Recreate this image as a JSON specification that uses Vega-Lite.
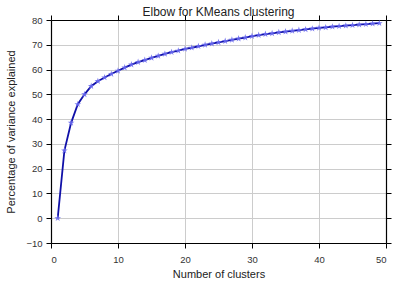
{
  "$schema": "https://vega.github.io/schema/vega-lite/v6.json",
  "autosize": "none",
  "padding": {"left": 51, "top": 20, "right": 12, "bottom": 44},
  "width": 335,
  "height": 223,
  "background": "white",
  "title": {"text": "Elbow for KMeans clustering", "font": "Liberation Sans", "fontSize": 12, "fontWeight": "normal", "color": "#222222", "offset": -4},
  "config": {
    "view": {"stroke": null},
    "axis": {"labelFont": "Liberation Sans", "titleFont": "Liberation Sans", "labelFontSize": 9.5, "titleFontSize": 11, "titleFontWeight": "normal", "labelColor": "#333333", "titleColor": "#222222", "domainColor": "#000000", "tickColor": "#000000", "tickSize": 5, "gridColor": "#cccccc", "gridWidth": 1, "domainWidth": 1.2}
  },
  "data": {"values": [
    {"k": 1, "v": 0}, {"k": 2, "v": 27.3}, {"k": 3, "v": 38.5}, {"k": 4, "v": 46}, {"k": 5, "v": 50},
    {"k": 6, "v": 53.3}, {"k": 7, "v": 55.3}, {"k": 8, "v": 56.8}, {"k": 9, "v": 58.2}, {"k": 10, "v": 59.5},
    {"k": 11, "v": 60.8}, {"k": 12, "v": 62}, {"k": 13, "v": 63}, {"k": 14, "v": 63.8}, {"k": 15, "v": 64.7},
    {"k": 16, "v": 65.5}, {"k": 17, "v": 66.3}, {"k": 18, "v": 67}, {"k": 19, "v": 67.6}, {"k": 20, "v": 68.3},
    {"k": 21, "v": 68.8}, {"k": 22, "v": 69.4}, {"k": 23, "v": 70}, {"k": 24, "v": 70.5}, {"k": 25, "v": 71},
    {"k": 26, "v": 71.5}, {"k": 27, "v": 72}, {"k": 28, "v": 72.5}, {"k": 29, "v": 72.9}, {"k": 30, "v": 73.5},
    {"k": 31, "v": 73.9}, {"k": 32, "v": 74.3}, {"k": 33, "v": 74.6}, {"k": 34, "v": 75}, {"k": 35, "v": 75.3},
    {"k": 36, "v": 75.6}, {"k": 37, "v": 75.9}, {"k": 38, "v": 76.2}, {"k": 39, "v": 76.5}, {"k": 40, "v": 76.8},
    {"k": 41, "v": 77}, {"k": 42, "v": 77.3}, {"k": 43, "v": 77.5}, {"k": 44, "v": 77.7}, {"k": 45, "v": 77.9},
    {"k": 46, "v": 78.1}, {"k": 47, "v": 78.3}, {"k": 48, "v": 78.5}, {"k": 49, "v": 78.7}
  ]},
  "layer": [
    {
      "mark": {"type": "line", "color": "#1010a8", "strokeWidth": 1.8},
      "encoding": {
        "x": {"field": "k", "type": "quantitative", "scale": {"domain": [0, 50], "nice": false}, "axis": {"title": "Number of clusters", "values": [0, 10, 20, 30, 40, 50], "labelPadding": 6, "titlePadding": 5}},
        "y": {"field": "v", "type": "quantitative", "scale": {"domain": [-10, 80], "nice": false}, "axis": {"title": "Percentage of variance explained", "values": [-10, 0, 10, 20, 30, 40, 50, 60, 70, 80], "labelPadding": 4, "titlePadding": 9}}
      }
    },
    {
      "mark": {"type": "point", "shape": "M0,-1L0.2245,-0.309L0.951,-0.309L0.363,0.118L0.588,0.809L0,0.382L-0.588,0.809L-0.363,0.118L-0.951,-0.309L-0.2245,-0.309Z", "filled": true, "color": "#6a6af0", "size": 50, "opacity": 0.9},
      "encoding": {
        "x": {"field": "k", "type": "quantitative", "axis": {"orient": "top", "labels": false, "title": null, "grid": false, "values": [0, 10, 20, 30, 40, 50]}},
        "y": {"field": "v", "type": "quantitative", "axis": {"orient": "right", "labels": false, "title": null, "grid": false, "values": [-10, 0, 10, 20, 30, 40, 50, 60, 70, 80]}}
      }
    }
  ],
  "resolve": {"axis": {"x": "independent", "y": "independent"}}
}
